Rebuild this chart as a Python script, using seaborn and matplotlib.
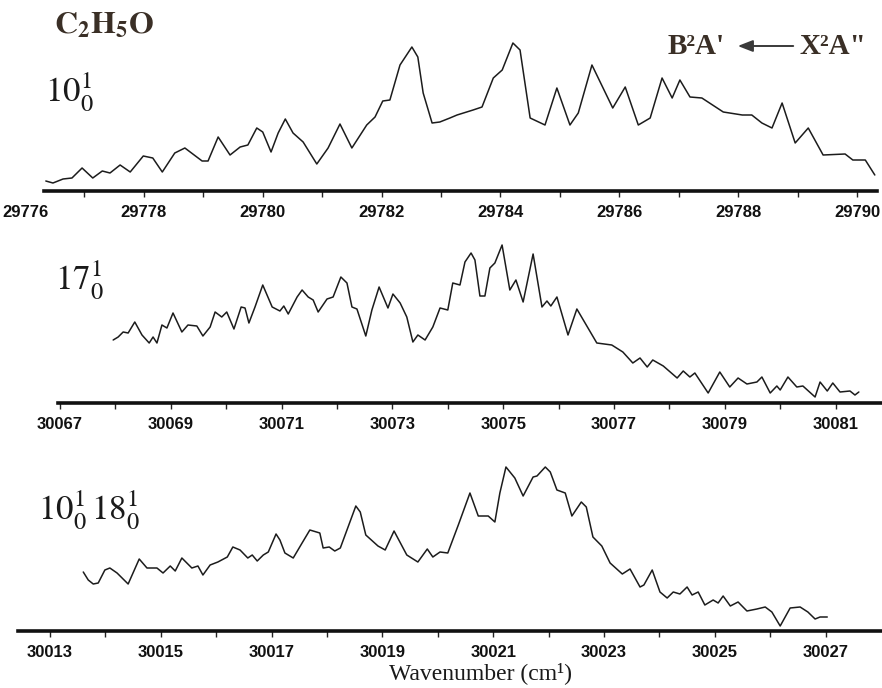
import numpy as np
import pandas as pd
import matplotlib
matplotlib.use("Agg")
import matplotlib.pyplot as plt
import seaborn as sns
from matplotlib.ticker import FixedLocator

# ---------------- data ----------------
# Panel 1: 10^1_0 band, wavenumber (cm-1) and intensity (a.u.)
wn_10 = [29776.35, 29776.47, 29776.64, 29776.79, 29776.96, 29777.14, 29777.30, 29777.43,
         29777.60, 29777.77, 29777.99, 29778.15, 29778.31, 29778.52, 29778.69, 29778.98,
         29779.08, 29779.25, 29779.45, 29779.62, 29779.75, 29779.90, 29780.00, 29780.14,
         29780.26, 29780.38, 29780.51, 29780.68, 29780.91, 29781.10, 29781.30, 29781.50,
         29781.75, 29781.89, 29782.02, 29782.14, 29782.31, 29782.51, 29782.61, 29782.70,
         29782.85, 29782.98, 29783.15, 29783.27, 29783.54, 29783.69, 29783.88, 29784.03,
         29784.21, 29784.33, 29784.50, 29784.75, 29784.95, 29785.17, 29785.31, 29785.54,
         29785.89, 29786.10, 29786.32, 29786.52, 29786.72, 29786.89, 29787.02, 29787.19,
         29787.39, 29787.75, 29788.07, 29788.23, 29788.40, 29788.57, 29788.74, 29788.96,
         29789.18, 29789.43, 29789.80, 29789.93, 29790.14, 29790.30]
int_10 = [0.10, 0.08, 0.12, 0.13, 0.23, 0.13, 0.20, 0.18,
          0.26, 0.19, 0.35, 0.33, 0.19, 0.38, 0.43, 0.30,
          0.30, 0.54, 0.36, 0.44, 0.46, 0.63, 0.59, 0.39,
          0.58, 0.72, 0.58, 0.49, 0.27, 0.43, 0.67, 0.43,
          0.66, 0.74, 0.90, 0.91, 1.26, 1.44, 1.34, 0.98,
          0.68, 0.69, 0.73, 0.76, 0.81, 0.84, 1.13, 1.21,
          1.48, 1.41, 0.73, 0.66, 1.03, 0.66, 0.78, 1.26,
          0.83, 1.04, 0.66, 0.73, 1.13, 0.93, 1.11, 0.94,
          0.93, 0.79, 0.76, 0.76, 0.68, 0.63, 0.88, 0.48,
          0.63, 0.36, 0.37, 0.31, 0.31, 0.16]

# Panel 2: 17^1_0 band
wn_17 = [30067.96, 30068.05, 30068.14, 30068.23, 30068.35, 30068.48, 30068.61, 30068.68,
         30068.75, 30068.84, 30068.93, 30069.04, 30069.20, 30069.31, 30069.47, 30069.58,
         30069.71, 30069.80, 30069.92, 30070.01, 30070.14, 30070.27, 30070.34, 30070.41,
         30070.52, 30070.66, 30070.83, 30070.97, 30071.04, 30071.12, 30071.28, 30071.37,
         30071.48, 30071.57, 30071.66, 30071.82, 30071.93, 30072.07, 30072.18, 30072.27,
         30072.36, 30072.52, 30072.63, 30072.76, 30072.92, 30073.01, 30073.14, 30073.26,
         30073.37, 30073.46, 30073.59, 30073.73, 30073.86, 30074.00, 30074.09, 30074.22,
         30074.31, 30074.42, 30074.49, 30074.58, 30074.67, 30074.76, 30074.85, 30074.98,
         30075.12, 30075.23, 30075.36, 30075.54, 30075.70, 30075.79, 30075.86, 30075.97,
         30076.17, 30076.33, 30076.69, 30076.96, 30077.16, 30077.34, 30077.47, 30077.60,
         30077.70, 30077.89, 30078.14, 30078.25, 30078.37, 30078.46, 30078.70, 30078.91,
         30079.09, 30079.24, 30079.40, 30079.58, 30079.67, 30079.82, 30079.94, 30080.00,
         30080.14, 30080.30, 30080.41, 30080.63, 30080.72, 30080.85, 30080.95, 30081.08,
         30081.26, 30081.35, 30081.42]
int_17 = [0.63, 0.66, 0.71, 0.70, 0.81, 0.68, 0.60, 0.66,
          0.60, 0.78, 0.75, 0.90, 0.71, 0.78, 0.77, 0.67,
          0.76, 0.91, 0.86, 0.91, 0.74, 0.96, 0.95, 0.80,
          0.96, 1.18, 0.96, 0.92, 0.97, 0.89, 1.06, 1.13,
          1.06, 1.03, 0.91, 1.04, 1.06, 1.26, 1.20, 0.96,
          0.94, 0.67, 0.93, 1.16, 0.95, 1.09, 1.00, 0.86,
          0.61, 0.68, 0.63, 0.76, 0.95, 0.93, 1.20, 1.18,
          1.41, 1.50, 1.43, 1.07, 1.07, 1.35, 1.40, 1.58,
          1.13, 1.23, 1.01, 1.49, 0.96, 1.02, 0.97, 1.06,
          0.68, 0.94, 0.60, 0.58, 0.51, 0.40, 0.45, 0.36,
          0.43, 0.37, 0.25, 0.32, 0.26, 0.30, 0.10, 0.31,
          0.16, 0.25, 0.19, 0.21, 0.26, 0.10, 0.17, 0.13,
          0.26, 0.16, 0.17, 0.06, 0.21, 0.12, 0.20, 0.11,
          0.12, 0.08, 0.11]

# Panel 3: 10^1_0 18^1_0 band
wn_1018 = [30013.60, 30013.69, 30013.78, 30013.87, 30013.99, 30014.08, 30014.21, 30014.41,
           30014.61, 30014.75, 30014.93, 30015.04, 30015.17, 30015.26, 30015.38, 30015.56,
           30015.67, 30015.76, 30015.89, 30016.03, 30016.20, 30016.30, 30016.43, 30016.57,
           30016.65, 30016.74, 30016.85, 30016.94, 30017.08, 30017.15, 30017.24, 30017.39,
           30017.55, 30017.69, 30017.87, 30017.93, 30018.04, 30018.14, 30018.24, 30018.36,
           30018.52, 30018.60, 30018.70, 30018.92, 30019.05, 30019.21, 30019.44, 30019.64,
           30019.81, 30019.91, 30020.04, 30020.18, 30020.37, 30020.58, 30020.73, 30020.91,
           30021.03, 30021.12, 30021.23, 30021.39, 30021.54, 30021.72, 30021.79, 30021.94,
           30022.03, 30022.15, 30022.30, 30022.42, 30022.59, 30022.68, 30022.80, 30022.96,
           30023.11, 30023.33, 30023.47, 30023.65, 30023.72, 30023.87, 30024.01, 30024.14,
           30024.25, 30024.37, 30024.50, 30024.59, 30024.70, 30024.82, 30024.97, 30025.06,
           30025.15, 30025.28, 30025.42, 30025.58, 30025.76, 30025.91, 30026.03, 30026.18,
           30026.36, 30026.54, 30026.68, 30026.81, 30026.90, 30027.03]
int_1018 = [0.59, 0.51, 0.47, 0.48, 0.61, 0.63, 0.58, 0.47,
            0.72, 0.63, 0.63, 0.58, 0.65, 0.60, 0.73, 0.63,
            0.65, 0.56, 0.66, 0.69, 0.74, 0.84, 0.81, 0.73,
            0.76, 0.70, 0.76, 0.79, 0.97, 0.91, 0.78, 0.73,
            0.88, 1.01, 0.98, 0.83, 0.84, 0.80, 0.83, 1.01,
            1.25, 1.19, 0.96, 0.85, 0.81, 1.00, 0.76, 0.69,
            0.82, 0.74, 0.79, 0.78, 1.06, 1.38, 1.15, 1.15,
            1.09, 1.38, 1.64, 1.53, 1.35, 1.54, 1.55, 1.64,
            1.59, 1.41, 1.38, 1.15, 1.29, 1.24, 0.94, 0.85,
            0.68, 0.57, 0.62, 0.44, 0.46, 0.61, 0.39, 0.33,
            0.39, 0.37, 0.44, 0.36, 0.39, 0.26, 0.31, 0.28,
            0.35, 0.25, 0.29, 0.20, 0.22, 0.24, 0.19, 0.05,
            0.23, 0.24, 0.19, 0.12, 0.14, 0.14]

ticks_10 = [29776, 29778, 29780, 29782, 29784, 29786, 29788, 29790]
ticks_17 = [30067, 30069, 30071, 30073, 30075, 30077, 30079, 30081]
ticks_1018 = [30013, 30015, 30017, 30019, 30021, 30023, 30025, 30027]

band_labels = [r"$10^1_0$", r"$17^1_0$", r"$10^1_0\,18^1_0$"]

# ---------------- style ----------------
sns.set_theme(style="white")
plt.rcParams["font.family"] = ["Liberation Sans", "DejaVu Sans"]
plt.rcParams["mathtext.fontset"] = "stix"

W, H = 882, 688
fig = plt.figure(figsize=(W / 100, H / 100), dpi=100)
fig.patch.set_facecolor("white")


def fx(px):
    return px / W


def fy(py):
    return 1 - py / H


panels = [
    dict(wn=wn_10, I=int_10, ticks=ticks_10, xlim=(29775.579, 29790.421),
         bounds=(29776.32, 29790.337), axis_px=191, top_px=25),
    dict(wn=wn_17, I=int_17, ticks=ticks_17, xlim=(30065.917, 30081.838),
         bounds=(30066.96, 30081.838), axis_px=403, top_px=228),
    dict(wn=wn_1018, I=int_1018, ticks=ticks_1018, xlim=(30012.097, 30028.018),
         bounds=(30012.42, 30028.018), axis_px=631, top_px=450),
]

for p in panels:
    h_px = p["axis_px"] - p["top_px"]
    ax = fig.add_axes([0, fy(p["axis_px"]), 1, h_px / H])
    ax.patch.set_alpha(0)
    df = pd.DataFrame({"wn": p["wn"], "I": p["I"]})
    sns.lineplot(data=df, x="wn", y="I", ax=ax, color="#1c1c1c", lw=1.1,
                 estimator=None, sort=False)
    ax.set_xlim(*p["xlim"])
    ax.set_ylim(0, h_px / 100)
    ax.set_xlabel("")
    ax.set_ylabel("")
    ax.set_yticks([])
    for s in ("top", "left", "right"):
        ax.spines[s].set_visible(False)
    ax.spines["bottom"].set_linewidth(2.6)
    ax.spines["bottom"].set_color("#111111")
    ax.spines["bottom"].set_bounds(*p["bounds"])
    ax.set_xticks(p["ticks"])
    ax.set_xticklabels([str(t) for t in p["ticks"]])
    minors = [t + 1 for t in p["ticks"][:-1]]
    ax.xaxis.set_minor_locator(FixedLocator(minors))
    ax.tick_params(axis="x", which="both", bottom=True, direction="out",
                   length=4, width=1, color="#222222", pad=6)
    ax.tick_params(axis="x", which="major", labelsize=12, labelcolor="#111111")
    for lbl in ax.get_xticklabels():
        lbl.set_fontweight("bold")
        lbl.set_family(["Liberation Sans", "DejaVu Sans"])
    # tick marks lying outside the drawn axis line are not shown
    for tk, loc in zip(ax.xaxis.get_major_ticks(), p["ticks"]):
        if loc < p["bounds"][0]:
            tk.tick1line.set_visible(False)

# ---------------- annotations ----------------
brown = "#3a2f26"
fig.text(fx(54), fy(26), r"$\mathbf{C_2H_5O}$", fontsize=23, color=brown,
         ha="left", va="center")
fig.text(fx(45), fy(92), band_labels[0], fontsize=25, color="#1a1a1a",
         ha="left", va="center")
fig.text(fx(55), fy(280), band_labels[1], fontsize=25, color="#1a1a1a",
         ha="left", va="center")
fig.text(fx(38), fy(510), band_labels[2], fontsize=25, color="#1a1a1a",
         ha="left", va="center")

serif = ["Liberation Serif", "DejaVu Serif"]
fig.text(fx(668), fy(47), "B\u00b2A'", fontsize=21, fontweight="bold",
         family=serif, color=brown, ha="left", va="center")
fig.text(fx(800), fy(47), "X\u00b2A\"", fontsize=21, fontweight="bold",
         family=serif, color=brown, ha="left", va="center")
fig.add_artist(matplotlib.patches.FancyArrowPatch(
    (fx(796), fy(46)), (fx(735), fy(46)), transform=fig.transFigure,
    arrowstyle="-|>,head_length=9,head_width=3.5", color="#3a3a3a", lw=1.4,
    mutation_scale=1))

fig.text(fx(480), fy(673), "Wavenumber (cm\u00b9)", fontsize=17, family=serif,
         color="#1a1a1a", ha="center", va="center")

fig.savefig("out.png", dpi=100, facecolor="white")
